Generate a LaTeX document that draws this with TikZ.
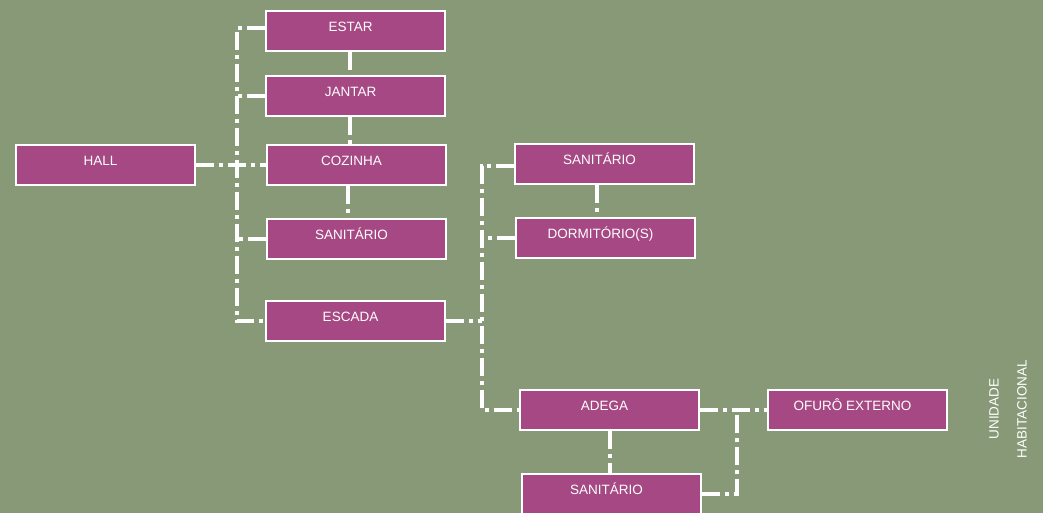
\documentclass[tikz,border=0pt]{standalone}
\usepackage{fontspec}
\setmainfont{Liberation Sans}
\definecolor{bggreen}{HTML}{889977}
\definecolor{roomfill}{HTML}{A54884}
\begin{document}
\begin{tikzpicture}[x=1pt,y=-1pt,
  room/.style={draw=white, line width=1.2pt, fill=roomfill, rectangle,
    minimum width=179pt, minimum height=40pt, inner sep=0pt,
    text=white, font=\fontsize{13.5pt}{16pt}\selectfont,
    text height=10pt, text depth=9pt,
    execute at end node={\hspace*{10pt}}},
  conn/.style={draw=white, line width=3.7pt,
    dash pattern=on 18pt off 5pt on 4pt off 5pt}]
\useasboundingbox[fill=bggreen] (0,0) rectangle (1043,513);
% rooms
\node[room] (estar)  at (355.5,31)  {ESTAR};
\node[room] (jantar) at (355.5,96)  {JANTAR};
\node[room] (hall)   at (105.5,165) {HALL};
\node[room] (coz)    at (356.5,165) {COZINHA};
\node[room] (san1)   at (356.5,239) {SANITÁRIO};
\node[room] (escada) at (355.5,321) {ESCADA};
\node[room] (san2)   at (604.5,164) {SANITÁRIO};
\node[room] (dorm)   at (605.5,238) {DORMITÓRIO(S)};
\node[room] (adega)  at (609.5,410) {ADEGA};
\node[room] (ofuro)  at (857.5,410) {OFURÔ EXTERNO};
\node[room] (san3)   at (611.5,494) {SANITÁRIO};
% trunk coordinates
\coordinate (lt) at (237,28);
\coordinate (lb) at (237,321);
\coordinate (rt) at (482,166);
\coordinate (rb) at (482,410);
\coordinate (ct) at (737,410);
\coordinate (va) at (350,0);
\coordinate (vb) at (348,0);
\coordinate (vc) at (597,0);
\coordinate (vd) at (610,0);
% connectors
\draw[conn] (hall.east) -- (coz.west);
\draw[conn] (estar.west |- lt) -- (lt) -- (lb) -- (escada.west);
\draw[conn] (jantar.west) -- (jantar.west -| lt);
\draw[conn] (san1.west) -- (san1.west -| lt);
\draw[conn] (estar.south -| va) -- (jantar.north -| va);
\draw[conn] (jantar.south -| va) -- (coz.north -| va);
\draw[conn] (coz.south -| vb) -- (san1.north -| vb);
\draw[conn] (san2.west |- rt) -- (rt) -- (rb) -- (adega.west);
\draw[conn] (dorm.west) -- (dorm.west -| rt);
\draw[conn] (escada.east) -- (escada.east -| rt);
\draw[conn] (san2.south -| vc) -- (dorm.north -| vc);
\draw[conn] (adega.south -| vd) -- (san3.north -| vd);
\draw[conn] (adega.east) -- (ofuro.west);
\draw[conn] (san3.east) -- (san3.east -| ct) -- (ct);
% side label
\node[rotate=90, align=center, text=white, font=\fontsize{13.5pt}{28pt}\selectfont]
  (label) at (1008,409) {UNIDADE\\HABITACIONAL};
\end{tikzpicture}
\end{document}
